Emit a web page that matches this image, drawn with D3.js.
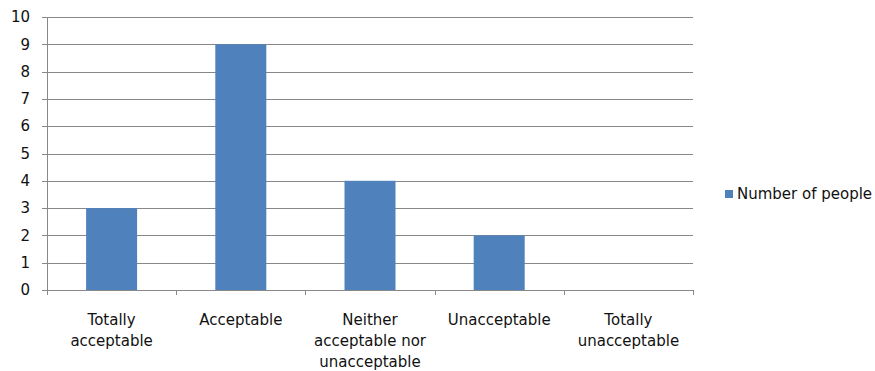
<!DOCTYPE html>
<html>
<head>
<meta charset="utf-8">
<script src="https://cdn.jsdelivr.net/npm/d3@7"></script>
<style>
  body { margin: 0; background: #fff; }
  svg text { font-family: "DejaVu Sans", Verdana, sans-serif; fill: #111; }
</style>
</head>
<body>
<svg id="chart" width="875" height="371"></svg>
<script>
const categories = [
  ["Totally", "acceptable"],
  ["Acceptable"],
  ["Neither", "acceptable nor", "unacceptable"],
  ["Unacceptable"],
  ["Totally", "unacceptable"]
];
const values = [3, 9, 4, 2, 0];
const yTicks = [0, 1, 2, 3, 4, 5, 6, 7, 8, 9, 10];
const seriesName = "Number of people";

const svg = d3.select("#chart");
const plotLeft = 47, plotRight = 693, plotTop = 17, plotBottom = 290;
const fontSize = 15;

const x = d3.scaleBand().domain(d3.range(categories.length)).range([plotLeft, plotRight]).paddingInner(0).paddingOuter(0);
const y = d3.scaleLinear().domain([0, 10]).range([plotBottom, plotTop]);

const gridColor = "#888";

// horizontal gridlines with tick stubs
svg.append("g").selectAll("line").data(yTicks).join("line")
  .attr("x1", plotLeft - 5).attr("x2", plotRight)
  .attr("y1", d => Math.round(y(d)) + 0.5).attr("y2", d => Math.round(y(d)) + 0.5)
  .attr("stroke", gridColor).attr("stroke-width", 1);

// y axis line
svg.append("line").attr("x1", plotLeft + 0.5).attr("x2", plotLeft + 0.5)
  .attr("y1", plotTop).attr("y2", plotBottom + 5).attr("stroke", gridColor);

// category tick marks
const edges = d3.range(categories.length + 1).map(i => i < categories.length ? x(i) : x(categories.length - 1) + x.bandwidth());
svg.append("g").selectAll("line").data(edges).join("line")
  .attr("x1", d => Math.round(d) + 0.5).attr("x2", d => Math.round(d) + 0.5)
  .attr("y1", plotBottom).attr("y2", plotBottom + 5)
  .attr("stroke", gridColor);

// y tick labels
svg.append("g").selectAll("text").data(yTicks).join("text")
  .attr("x", 30).attr("y", d => y(d))
  .attr("dy", "0.35em").attr("text-anchor", "end")
  .attr("font-size", fontSize).text(d => d);

// bars
const barW = 51;
svg.append("g").selectAll("rect").data(values).join("rect")
  .attr("x", (d, i) => x(i) + x.bandwidth() / 2 - barW / 2)
  .attr("width", barW)
  .attr("y", d => y(d))
  .attr("height", d => y(0) - y(d))
  .attr("fill", "#4F81BD");

// category labels
const lab = svg.append("g").selectAll("text").data(categories).join("text")
  .attr("x", (d, i) => x(i) + x.bandwidth() / 2)
  .attr("y", 325)
  .attr("text-anchor", "middle")
  .attr("font-size", fontSize);
lab.selectAll("tspan").data(d => d).join("tspan")
  .attr("x", function () { return this.parentNode.getAttribute("x"); })
  .attr("dy", (d, i) => i === 0 ? 0 : 21)
  .text(d => d);

// legend
svg.append("rect").attr("x", 725).attr("y", 190).attr("width", 8).attr("height", 8).attr("fill", "#4F81BD");
svg.append("text").attr("x", 737).attr("y", 194).attr("dy", "0.35em")
  .attr("font-size", fontSize).text(seriesName);
</script>
</body>
</html>
